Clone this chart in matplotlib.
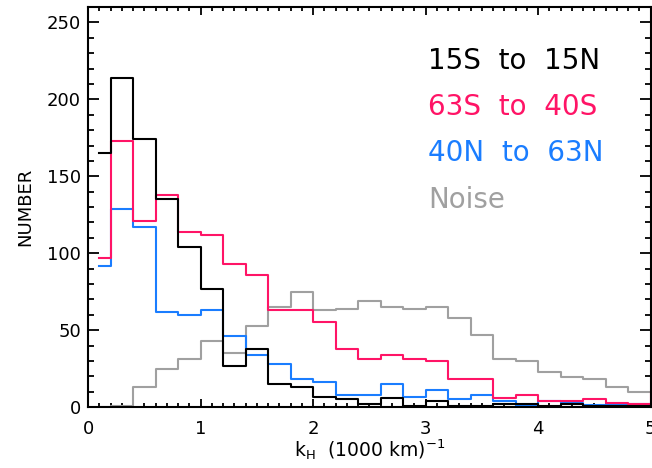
import numpy as np
import matplotlib.pyplot as plt
from matplotlib.ticker import MultipleLocator

# bin centres of the k_H histograms (bin width 0.2, last one lies past the axis)
k_centres = np.round(np.arange(0.1, 5.2, 0.2), 1)

equator = [165, 214, 174, 135, 104, 77, 27, 38, 15, 13,
           6.5, 5, 2, 6, 1, 4, 1, 1, 2, 2,
           1, 2, 1, 1, 1, 1]
south = [97, 173, 121, 138, 114, 112, 93, 86, 63, 63,
         55.5, 37.5, 31.5, 34, 31.5, 30.3, 18.2, 18.2, 6, 8,
         4, 4, 5, 3, 2.2, 10]
north = [92, 129, 117, 62, 60, 63, 46, 34, 28, 18.4,
         16.3, 8.2, 8.2, 15, 6.4, 11, 5.5, 8.2, 4.1, 0.5,
         4.1, 3, 1.5, 2.3, 2, 1]
noise = [0, 1, 13, 24.5, 31, 43, 35.5, 53, 65, 75,
         63, 64, 69, 65, 64, 65, 58, 47, 31.4, 30,
         23, 19.3, 18.3, 13.2, 10, 10]

series = [
    ('15S  to  15N', equator, 'black'),
    ('63S  to  40S', south, '#ff1466'),
    ('40N  to  63N', north, '#1a7dff'),
    ('Noise', noise, '#a0a0a0'),
]

fig = plt.figure(figsize=(6.52, 4.68), dpi=100)
ax = fig.add_axes([0.135, 0.130, 0.863, 0.855])

# draw noise first so the regional curves sit on top
for name, vals, col in series[::-1]:
    ax.step(k_centres, vals, where='mid', color=col, lw=1.5)

ax.set_xlim(0, 5)
ax.set_ylim(0, 260)
ax.xaxis.set_major_locator(MultipleLocator(1))
ax.xaxis.set_minor_locator(MultipleLocator(0.1))
ax.yaxis.set_major_locator(MultipleLocator(50))
ax.yaxis.set_minor_locator(MultipleLocator(10))
ax.tick_params(axis='both', which='both', direction='in', top=True, right=True,
               width=1.3, labelsize=13)
ax.tick_params(axis='x', which='major', length=6, pad=9)
ax.tick_params(axis='x', which='minor', length=3)
ax.tick_params(axis='y', which='major', length=8, pad=5)
ax.tick_params(axis='y', which='minor', length=4)
for sp in ax.spines.values():
    sp.set_linewidth(1.5)

ax.set_xlabel(r'k$_{\rm H}$  (1000 km)$^{-1}$', fontsize=13.5, labelpad=0)
ax.set_ylabel('NUMBER', fontsize=13, labelpad=9)

# region labels in the upper right, coloured like their curves
y0 = 0.865
for i, (name, vals, col) in enumerate(series):
    ax.text(0.605, y0 - i * 0.1155, name, color=col, fontsize=20,
            transform=ax.transAxes, va='center', ha='left')

fig.savefig('out.png', dpi=100)
